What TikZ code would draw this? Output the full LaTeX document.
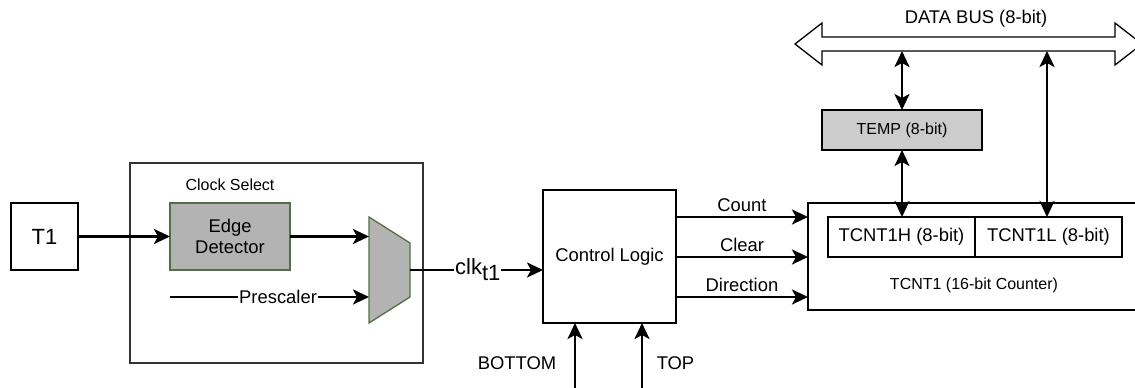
\documentclass[tikz,border=0pt]{standalone}
\usepackage{fontspec}
\setmainfont{Liberation Sans}
\usetikzlibrary{arrows.meta}
\definecolor{edgegreen}{RGB}{84,110,70}
\definecolor{gfill}{RGB}{179,179,179}
\definecolor{tfill}{RGB}{204,204,204}
\definecolor{csgray}{RGB}{51,51,51}
\begin{document}
\begin{tikzpicture}[x=1pt,y=-1pt,
  box/.style={draw=black, line width=1.3pt, inner sep=0pt, outer sep=0pt, align=center},
  arr/.style={line width=2.7pt, -{Stealth[length=16pt,width=15pt,inset=4pt]}},
  arrb/.style={line width=2.7pt, {Stealth[length=16pt,width=15pt,inset=4pt]}-{Stealth[length=16pt,width=15pt,inset=4pt]}},
  fA/.style={font=\fontsize{22}{26}\selectfont},
  fB/.style={font=\fontsize{18.4}{21}\selectfont},
  fC/.style={font=\fontsize{16}{19}\selectfont},
  lbl/.style={fill=white, inner sep=1pt}
]
\useasboundingbox (0,0) rectangle (1135,388);
\clip (0,0) rectangle (1135,388);

% Clock select
\node[box, draw=csgray, minimum width=293pt, minimum height=200pt] (cs) at (276.5,263) {};
\node[fC] (cslbl) at (230,185) {Clock Select};
\node[box, fA, minimum width=67pt, minimum height=67pt] (t1) at (44.5,236.5) {T1};
\node[box, fB, draw=edgegreen, fill=gfill, minimum width=120pt, minimum height=67pt] (edge) at (230,236.5) {Edge\\Detector};
\draw[draw=edgegreen, fill=gfill, line width=1.3pt] (369,217) -- (410,243) -- (410,297) -- (369,323) -- cycle;
\coordinate (muxa) at (369,236.5);
\coordinate (muxb) at (369,297);
\coordinate (muxo) at (410,270);
\coordinate (ps) at (170,297);

% control logic
\node[box, fB, minimum width=133pt, minimum height=133pt] (ctrl) at (609.5,256.5) {Control Logic};

% counter
\node[box, minimum width=334pt, minimum height=107pt] (tcnt) at (975,256.5) {};
\node[box, fB, minimum width=147pt, minimum height=40pt] (th) at (901.5,237) {TCNT1H (8-bit)};
\node[box, fB, minimum width=147pt, minimum height=40pt] (tl) at (1048.5,237) {TCNT1L (8-bit)};
\node[fC] (tcntlbl) at (974,285) {TCNT1 (16-bit Counter)};
\node[box, fC, fill=tfill, minimum width=160pt, minimum height=40pt] (temp) at (902,130) {TEMP (8-bit)};

% data bus
\draw[line width=1.3pt, fill=white] (795,44) -- (822,23) -- (822,37) -- (1115,37) -- (1115,23) -- (1142,44) -- (1115,65) -- (1115,51) -- (822,51) -- (822,65) -- cycle;
\node[fB] (buslbl) at (976,19) {DATA BUS (8-bit)};
\coordinate (busH) at (902,51);
\coordinate (busL) at (1047,51);

% connectors
\draw[arr] (t1) -- (edge);
\draw[arr] (edge.east) -- (muxa);
\draw[arr] (ps) -- node[lbl, fB, pos=0.543] {Prescaler} (muxb);
\draw[arr] (muxo) -- node[lbl, fA, pos=0.51] {clk\raisebox{-6pt}{t1}} (muxo -| ctrl.west);

\draw[arr] ([yshift=39.5pt]ctrl.east) -- node[fB, midway, yshift=12pt] {Count} ([yshift=39.5pt]ctrl.east -| tcnt.west);
\draw[arr] ([yshift=-0.5pt]ctrl.east) -- node[fB, midway, yshift=12pt] {Clear} ([yshift=-0.5pt]ctrl.east -| tcnt.west);
\draw[arr] ([yshift=-40.5pt]ctrl.east) -- node[fB, midway, yshift=12pt] {Direction} ([yshift=-40.5pt]ctrl.east -| tcnt.west);

\coordinate (bb) at (575,400);
\coordinate (bt) at (642,400);
\draw[arr] (bb) -- (bb |- ctrl.south);
\draw[arr] (bt) -- (bt |- ctrl.south);
\node[fB] (botlbl) at (517,363) {BOTTOM};
\node[fB] (toplbl) at (675.5,363) {TOP};

\draw[arrb] (busH) -- (temp.north);
\draw[arrb] (temp.south) -- (temp.south |- th.north);
\draw[arrb] (busL) -- (busL |- tl.north);
\end{tikzpicture}
\end{document}
